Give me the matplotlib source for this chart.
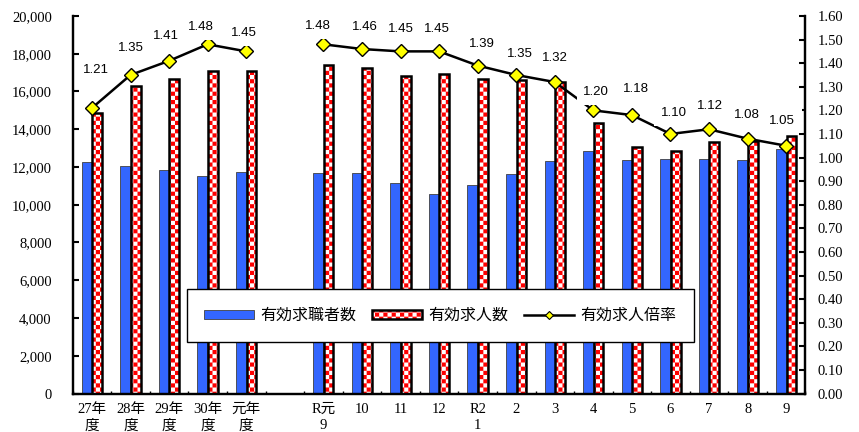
import warnings
warnings.filterwarnings('ignore')
import numpy as np
import matplotlib
matplotlib.use('Agg')
import matplotlib.pyplot as plt
import matplotlib.hatch as mhatch
from matplotlib.path import Path
from matplotlib.lines import Line2D
from matplotlib.ticker import FuncFormatter

# ---------------- data ----------------
categories = ['27年\n度', '28年\n度', '29年\n度', '30年\n度', '元年\n度', '',
              'R元\n9', '10', '11', '12', 'R2\n1', '2', '3', '4', '5', '6', '7', '8', '9']
job_seekers = [12250, 12040, 11830, 11520, 11750, np.nan,
               11670, 11670, 11150, 10570, 11050, 11610, 12300, 12860, 12370, 12410, 12420, 12370, 12970]
job_openings = [14850, 16290, 16650, 17070, 17070, np.nan,
                17420, 17260, 16810, 16910, 16660, 16610, 16490, 14330, 13080, 12850, 13320, 13390, 13650]
ratio = [1.21, 1.35, 1.41, 1.48, 1.45, np.nan,
         1.48, 1.46, 1.45, 1.45, 1.39, 1.35, 1.32, 1.20, 1.18, 1.10, 1.12, 1.08, 1.05]
series_names = ['有効求職者数', '有効求人数', '有効求人倍率']

# label offsets (pixels) for ratio labels
label_dx = [4, 0, -3, -7, -2, 0, -5, 3, 0, -2, 4, 4, 0, 3, 4, 3, 1, -1, -4]
label_dy = [38, 27, 25, 17, 18, 0, 18, 22, 22, 22, 22, 21, 24, 18, 26, 21, 23, 24, 25]


# ---------------- checkerboard hatch ----------------
class CheckerHatch(mhatch.HatchPatternBase):
    def __init__(self, hatch, density):
        self.n = 24 if (hatch and 'c' in hatch) else 0
        self.num_vertices = (self.n * self.n // 2) * 5

    def set_vertices_and_codes(self, vertices, codes):
        s = 1.0 / self.n
        verts = []
        cds = []
        for i in range(self.n):
            for j in range(self.n):
                if (i + j) % 2 == 0:
                    x0, y0 = i * s, j * s
                    verts += [(x0, y0), (x0 + s, y0), (x0 + s, y0 + s), (x0, y0 + s), (x0, y0)]
                    cds += [Path.MOVETO, Path.LINETO, Path.LINETO, Path.LINETO, Path.CLOSEPOLY]
        vertices[:] = np.array(verts)
        codes[:] = np.array(cds)


mhatch._hatch_types.append(CheckerHatch)
plt.rcParams['hatch.linewidth'] = 0.01
plt.rcParams['hatch.color'] = 'red'

serif = ['Liberation Serif', 'Noto Sans CJK JP']

fig = plt.figure(figsize=(8.59, 4.32), dpi=100)
ax = fig.add_axes([0.0846, 0.0891, 0.8531, 0.8739])
x = np.arange(len(categories))

b_blue = ax.bar(x - 0.135, job_seekers, 0.26, color='#3366FF', edgecolor='#404040', linewidth=0.6, zorder=2)
b_red = ax.bar(x + 0.135, job_openings, 0.25, facecolor='white', edgecolor='red', linewidth=0,
               hatch='c', zorder=2)
b_red_edge = ax.bar(x + 0.135, job_openings, 0.25, facecolor='none', edgecolor='black', linewidth=1.8, zorder=3)

ax.set_xlim(-0.5, len(categories) - 0.5)
ax.set_ylim(0, 20000)
ax.set_yticks(np.arange(0, 20001, 2000))
ax.yaxis.set_major_formatter(FuncFormatter(lambda v, p: f'{v:,.0f}'))
ax.tick_params(axis='y', direction='in', length=4, width=1.5, labelsize=10.5, pad=15)
for t in ax.get_yticklabels():
    t.set_fontfamily(serif)

ax.set_xticks(np.arange(-0.5, len(categories), 1.0))
ax.set_xticklabels([])
ax.set_xticks(x, minor=True)
ax.set_xticklabels(categories, minor=True, fontfamily=serif, fontsize=10.5, linespacing=1.3)
ax.tick_params(axis='x', which='major', direction='in', length=2.5, width=1.0)
ax.tick_params(axis='x', which='minor', length=0, pad=7)

for sp in ['left', 'bottom', 'right']:
    ax.spines[sp].set_linewidth(1.6)
ax.spines['top'].set_visible(False)

ax2 = ax.twinx()
ax2.plot(x, ratio, color='black', linewidth=1.8, marker='D', markersize=7.5,
         markerfacecolor='#FFFF00', markeredgecolor='black', markeredgewidth=1.0, zorder=3)
ax2.set_ylim(0, 1.6)
ax2.set_yticks(np.arange(0, 1.601, 0.1))
ax2.yaxis.set_major_formatter(FuncFormatter(lambda v, p: f'{v:.2f}'))
ax2.tick_params(axis='y', direction='in', length=4, width=1.5, labelsize=10.5, pad=9)
for t in ax2.get_yticklabels():
    t.set_fontfamily(serif)
for sp in ['left', 'bottom', 'right']:
    ax2.spines[sp].set_linewidth(1.6)
ax2.spines['top'].set_visible(False)

for i, r in enumerate(ratio):
    if np.isnan(r):
        continue
    ax2.annotate(f'{r:.2f}', (x[i], r), xytext=(label_dx[i], label_dy[i]), textcoords='offset pixels',
                 ha='center', va='center', fontsize=9.5, fontfamily='Liberation Sans',
                 bbox=dict(boxstyle='square,pad=0.5', fc='white', ec='none'), zorder=5)

h_line = Line2D([], [], color='black', linewidth=1.8, marker='D', markersize=4,
                markerfacecolor='#FFFF00', markeredgecolor='black', markeredgewidth=0.8)
leg = ax2.legend([b_blue, (b_red, b_red_edge), h_line], series_names,
                 loc='center', bbox_to_anchor=(0.5016, 0.2066), ncol=3,
                 prop=dict(family=['Noto Sans CJK JP'], size=11.5),
                 frameon=True, fancybox=False, edgecolor='black', framealpha=1,
                 handlelength=3.1, handleheight=0.5, handletextpad=0.4,
                 columnspacing=1.0, borderpad=1.1)
leg.get_frame().set_linewidth(1.0)
leg.set_zorder(10)

fig.savefig('out.png', dpi=100)
